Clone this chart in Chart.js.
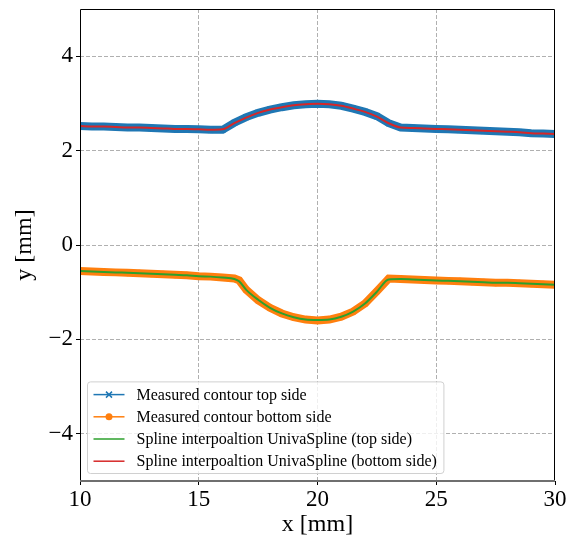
<!DOCTYPE html>
<html>
<head>
<meta charset="utf-8">
<script src="https://cdn.jsdelivr.net/npm/chart.js@4.4.1/dist/chart.umd.min.js"></script>
<style>
  html, body { margin: 0; padding: 0; background: #fff; }
</style>
</head>
<body>
<canvas id="chart" width="572" height="537"></canvas>
<script>
const xTicks = [10, 15, 20, 25, 30];
const yTicks = [-4, -2, 0, 2, 4];

// measured contour, top side
const topX = [10, 10.5, 11, 11.5, 12, 12.5, 13, 13.5, 14, 14.5, 15, 15.5, 16, 16.5, 17, 17.5, 18, 18.5, 19, 19.5,
              20, 20.5, 21, 21.5, 22, 22.5, 23, 23.5, 24, 24.5, 25, 25.5, 26, 26.5, 27, 27.5, 28, 28.5, 29, 29.5, 30];
const topY = [2.52, 2.51, 2.51, 2.50, 2.49, 2.49, 2.48, 2.47, 2.46, 2.46, 2.45, 2.44, 2.44, 2.59, 2.71, 2.80, 2.87, 2.92, 2.96, 2.98,
              2.99, 2.98, 2.95, 2.89, 2.82, 2.73, 2.58, 2.49, 2.48, 2.47, 2.46, 2.45, 2.44, 2.43, 2.42, 2.41, 2.40, 2.39, 2.37, 2.36, 2.35];

// measured contour, bottom side
const botX = [10, 10.5, 11, 11.5, 12, 12.5, 13, 13.5, 14, 14.5, 15, 15.5, 16, 16.5, 16.7, 17, 17.5, 18, 18.5, 19, 19.5,
              20, 20.5, 21, 21.5, 22, 22.5, 23, 23.5, 24, 24.5, 25, 25.5, 26, 26.5, 27, 27.5, 28, 28.5, 29, 29.5, 30];
const botY = [-0.55, -0.56, -0.57, -0.58, -0.59, -0.60, -0.61, -0.62, -0.63, -0.64, -0.66, -0.67, -0.69, -0.71, -0.75, -0.95, -1.17, -1.33, -1.45, -1.53, -1.58,
              -1.60, -1.58, -1.52, -1.41, -1.24, -0.98, -0.71, -0.72, -0.73, -0.74, -0.75, -0.76, -0.77, -0.78, -0.79, -0.80, -0.80, -0.81, -0.82, -0.83, -0.84];

// UnivariateSpline fits (legend labels as in the original script)
const splineLowerY = [-0.55, -0.56, -0.57, -0.58, -0.59, -0.60, -0.61, -0.62, -0.63, -0.64, -0.66, -0.67, -0.69, -0.72, -0.77, -0.95, -1.16, -1.33, -1.45, -1.53, -1.58,
                      -1.59, -1.58, -1.52, -1.41, -1.24, -0.99, -0.73, -0.72, -0.73, -0.74, -0.75, -0.76, -0.77, -0.78, -0.79, -0.80, -0.80, -0.81, -0.82, -0.83, -0.84];
const splineUpperY = [2.52, 2.51, 2.51, 2.50, 2.49, 2.49, 2.48, 2.47, 2.46, 2.46, 2.45, 2.44, 2.45, 2.58, 2.70, 2.80, 2.87, 2.92, 2.96, 2.98,
                      2.99, 2.98, 2.95, 2.89, 2.82, 2.72, 2.58, 2.49, 2.48, 2.47, 2.46, 2.45, 2.44, 2.43, 2.42, 2.41, 2.40, 2.39, 2.37, 2.36, 2.35];

const labels = [
    'Measured contour top side',
    'Measured contour bottom side',
    'Spline interpoaltion UnivaSpline (top side)',
    'Spline interpoaltion UnivaSpline (bottom side)'
];
const colors = ['#1f77b4', '#ff7f0e', '#2ca02c', '#d62728'];

const SERIF = '"Liberation Serif", "DejaVu Serif", serif';

const pts = (xs, ys) => xs.map((x, i) => ({ x: x, y: ys[i] }));
const fmt = v => v < 0 ? '\u2212' + Math.abs(v) : String(v);

// black frame round the plot, bottom spine a bit heavier
const frame = {
    id: 'frame',
    afterDraw(chart) {
        const { ctx, chartArea: a } = chart;
        ctx.save();
        ctx.strokeStyle = '#000';
        ctx.lineWidth = 1;
        ctx.beginPath();
        ctx.moveTo(a.left + 0.5, a.bottom);
        ctx.lineTo(a.left + 0.5, a.top + 0.5);
        ctx.lineTo(a.right - 0.5, a.top + 0.5);
        ctx.lineTo(a.right - 0.5, a.bottom);
        ctx.stroke();
        ctx.strokeStyle = '#6f6f6f';
        ctx.lineWidth = 2;
        ctx.beginPath();
        ctx.moveTo(a.left, a.bottom);
        ctx.lineTo(a.right, a.bottom);
        ctx.stroke();
        ctx.restore();
    }
};

// matplotlib-like legend in the lower left corner of the plot
const insetLegend = {
    id: 'insetLegend',
    afterDraw(chart) {
        const { ctx, chartArea: a } = chart;
        const sets = chart.data.datasets;
        const rowH = 22.2, handleW = 31;
        ctx.save();
        ctx.font = '16px ' + SERIF;
        const textW = Math.max(...sets.map(d => ctx.measureText(d.label).width));
        const w = 6 + handleW + 12 + textW + 7;
        const h = rowH * (sets.length - 1) + 25;
        const x0 = a.left + 7.5, y0 = a.bottom - 7.5 - h;
        ctx.beginPath();
        ctx.roundRect(x0, y0, w, h, 3);
        ctx.fillStyle = 'rgba(255,255,255,0.8)';
        ctx.fill();
        ctx.strokeStyle = '#d0d0d0';
        ctx.lineWidth = 1;
        ctx.stroke();
        sets.forEach((d, i) => {
            const cy = y0 + 12.7 + i * rowH;
            const hx = x0 + 6, mx = hx + handleW / 2;
            ctx.strokeStyle = d.borderColor;
            ctx.lineWidth = 1.5;
            ctx.beginPath();
            ctx.moveTo(hx, cy);
            ctx.lineTo(hx + handleW, cy);
            ctx.stroke();
            if (d.legendMarker === 'cross') {
                ctx.beginPath();
                ctx.moveTo(mx - 3, cy - 3); ctx.lineTo(mx + 3, cy + 3);
                ctx.moveTo(mx - 3, cy + 3); ctx.lineTo(mx + 3, cy - 3);
                ctx.stroke();
            } else if (d.legendMarker === 'circle') {
                ctx.fillStyle = d.borderColor;
                ctx.beginPath();
                ctx.arc(mx, cy, 3.5, 0, Math.PI * 2);
                ctx.fill();
            }
            ctx.fillStyle = '#000';
            ctx.textBaseline = 'middle';
            ctx.fillText(d.label, hx + handleW + 12, cy + 1);
        });
        ctx.restore();
    }
};

const axisFont = { family: SERIF, size: 23 };
const titleFont = { family: SERIF, size: 24, lineHeight: 1 };
const gridColor = c => (c.tick && (c.tick.value === c.scale.min || c.tick.value === c.scale.max)) ? 'rgba(0,0,0,0)' : '#b0b0b0';

new Chart(document.getElementById('chart'), {
    type: 'line',
    data: {
        datasets: [
            {
                label: labels[0], data: pts(topX, topY), order: 4, legendMarker: 'cross',
                borderColor: colors[0], borderWidth: 8, tension: 0,
                pointStyle: 'crossRot', pointRadius: 4, pointBorderWidth: 1.5,
                pointBorderColor: colors[0], pointBackgroundColor: colors[0]
            },
            {
                label: labels[1], data: pts(botX, botY), order: 3, legendMarker: 'circle',
                borderColor: colors[1], borderWidth: 8, tension: 0,
                pointStyle: 'circle', pointRadius: 3.5, pointBorderWidth: 0,
                pointBackgroundColor: colors[1]
            },
            {
                label: labels[2], data: pts(botX, splineLowerY), order: 2,
                borderColor: colors[2], borderWidth: 2, pointRadius: 0,
                cubicInterpolationMode: 'monotone'
            },
            {
                label: labels[3], data: pts(topX, splineUpperY), order: 1,
                borderColor: colors[3], borderWidth: 2, pointRadius: 0,
                cubicInterpolationMode: 'monotone'
            }
        ]
    },
    options: {
        responsive: false,
        animation: false,
        events: [],
        layout: { padding: { top: 9, right: 17, left: 0, bottom: 0 } },
        plugins: { legend: { display: false }, tooltip: { enabled: false } },
        scales: {
            x: {
                type: 'linear', min: 10, max: 30,
                afterBuildTicks: s => { s.ticks = xTicks.map(v => ({ value: v })); },
                afterFit: s => { s.height = 56; s.paddingLeft = 0; s.paddingRight = 0; },
                grid: { color: gridColor, lineWidth: 1, tickLength: 4, tickColor: '#000', tickWidth: 1 },
                border: { display: false, dash: [4, 2] },
                ticks: { font: axisFont, color: '#000', padding: 1, maxRotation: 0, callback: fmt },
                title: { display: true, text: 'x [mm]', font: titleFont, color: '#000', padding: { top: 0, bottom: 0 } }
            },
            y: {
                type: 'linear', min: -5, max: 5,
                afterBuildTicks: s => { s.ticks = yTicks.map(v => ({ value: v })); },
                afterFit: s => { s.width = 80; s.paddingTop = 0; s.paddingBottom = 0; },
                grid: { color: gridColor, lineWidth: 1, tickLength: 4, tickColor: '#000', tickWidth: 1 },
                border: { display: false, dash: [4, 2] },
                ticks: { font: axisFont, color: '#000', padding: 3, callback: fmt },
                title: { display: true, text: 'y [mm]', font: titleFont, color: '#000', padding: { top: 13, bottom: 0 } }
            }
        }
    },
    plugins: [frame, insetLegend]
});
</script>
</body>
</html>
